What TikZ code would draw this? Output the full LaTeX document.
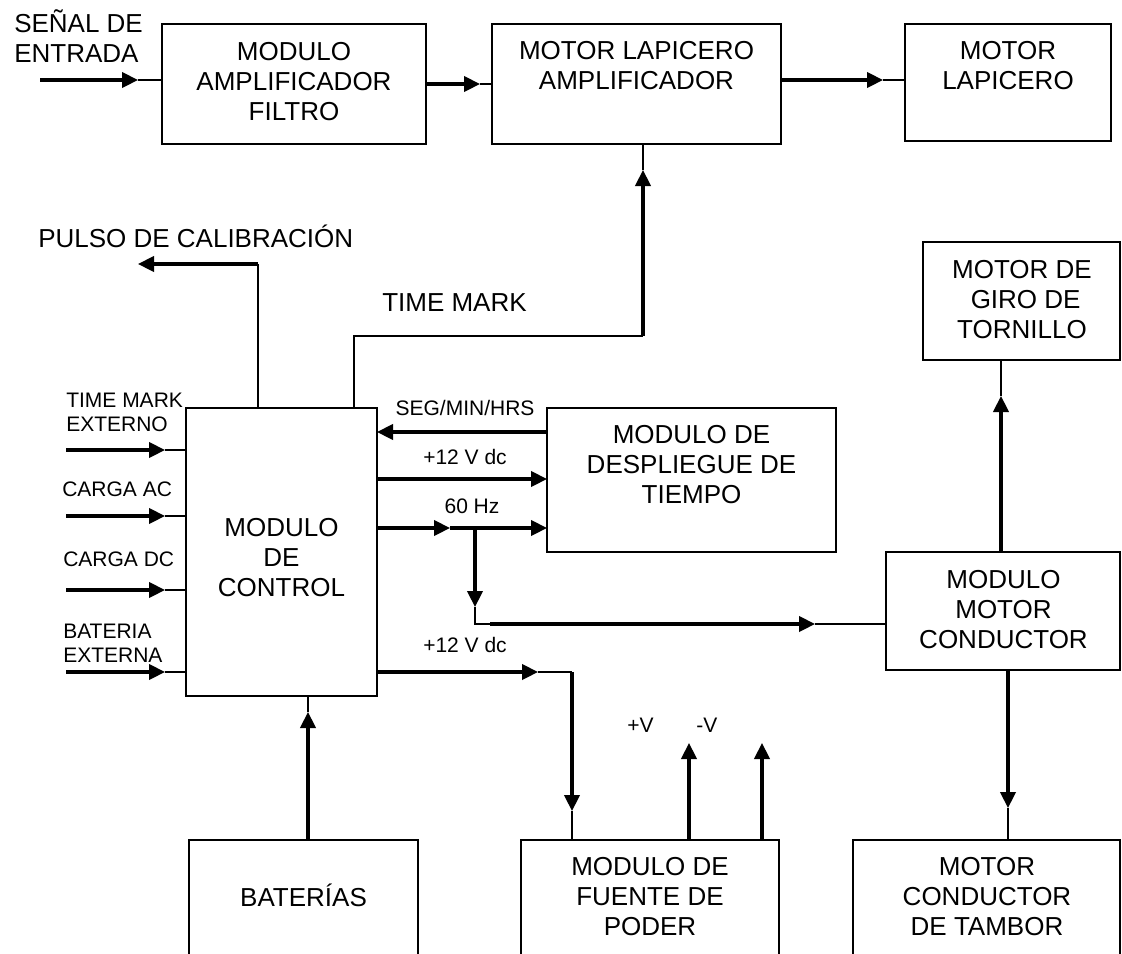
\documentclass[tikz,border=0pt]{standalone}
\usepackage{fontspec}
\setmainfont{Liberation Sans}
\usetikzlibrary{arrows.meta,fit}
\begin{document}
\begin{tikzpicture}[x=0.75pt,y=-0.75pt,
  box/.style={draw, line width=1.5pt, inner sep=0pt, outer sep=0pt},
  big/.style={font=\fontsize{19.5pt}{22.5pt}\selectfont, align=center, inner sep=0pt},
  small/.style={font=\fontsize{15.75pt}{18pt}\selectfont, align=left, inner sep=0pt},
  wire/.style={line width=2.3pt},
  lite/.style={line width=1.1pt},
  arr/.style={-{Triangle[length=12pt,width=11.5pt]}}]
\clip (0,0) rectangle (1122,954);
% boxes
\node[box, fit={(162,24)(426,144)}] (amp) {};
\node[box, fit={(492,24)(781,144)}] (mla) {};
\node[box, fit={(905,24)(1111,141)}] (mlp) {};
\node[box, fit={(186,408)(377,696)}] (ctrl) {};
\node[box, fit={(547,408)(836,552)}] (desp) {};
\node[box, fit={(923,242)(1120,360)}] (giro) {};
\node[box, fit={(886,552)(1120,670)}] (mmc) {};
\node[box, fit={(189,840)(418,1000)}] (bat) {};
\node[box, fit={(521,840)(779,1000)}] (fte) {};
\node[box, fit={(853,840)(1120,1000)}] (tam) {};
% box texts
\node[big, anchor=south] (ampT) at (294,121) {MODULO\\AMPLIFICADOR\\FILTRO};
\node[big, anchor=south] (mlaT) at (636.5,90) {MOTOR LAPICERO\\AMPLIFICADOR};
\node[big, anchor=south] (mlpT) at (1008,90) {MOTOR\\LAPICERO};
\node[big, anchor=south] (ctrlT) at (281.5,597) {MODULO\\DE\\CONTROL};
\node[big, anchor=south] (despT) at (691.5,504) {MODULO DE\\DESPLIEGUE DE\\TIEMPO};
\node[big, anchor=south] (giroT) at (1022,339) {MOTOR DE\\\hspace*{0.28em}GIRO DE\\TORNILLO};
\node[big, anchor=south] (mmcT) at (1003.5,649) {MODULO\\MOTOR\\CONDUCTOR};
\node[big, anchor=south] (batT) at (303.5,907) {BATERÍAS};
\node[big, anchor=south] (fteT) at (650,936) {MODULO DE\\FUENTE DE\\PODER};
\node[big, anchor=south] (tamT) at (987,936) {MOTOR\\CONDUCTOR\\DE TAMBOR};
% free labels
\node[big, anchor=south west, align=left] (senT) at (14,63) {SEÑAL DE\\ENTRADA};
\node[big, anchor=south west] (pulT) at (38,248) {PULSO DE CALIBRACIÓN};
\node[big, anchor=south west] (tmT) at (382,312) {TIME MARK};
\node[small, anchor=south west] (tmeT) at (66,432) {TIME MARK\\EXTERNO};
\node[small, anchor=south west] (cacT) at (62,497) {CARGA AC};
\node[small, anchor=south west] (cdcT) at (63,567) {CARGA DC};
\node[small, anchor=south west] (bexT) at (63,663) {BATERIA\\EXTERNA};
\node[small, anchor=south] (segT) at (465,416) {SEG/MIN/HRS};
\node[small, anchor=south] (v12aT) at (465,465) {+12 V dc};
\node[small, anchor=south] (hzT) at (472,514) {60 Hz};
\node[small, anchor=south] (v12bT) at (465,653) {+12 V dc};
\node[small, anchor=south west] (pvT) at (627,733) {+V};
\node[small, anchor=south west] (nvT) at (696,733) {-V};
% signal in
\coordinate (s0) at (40,80); \coordinate (s1) at (138,80);
\draw[wire,arr] (s0) -- (s1); \draw[lite] (s1) -- (s1 -| amp.west);
% amp -> mla
\coordinate (a1) at (480,84);
\draw[wire,arr] (amp.east |- a1) -- (a1); \draw[lite] (a1) -- (a1 -| mla.west);
% mla -> mlp
\coordinate (b1) at (883,80);
\draw[wire,arr] (mla.east |- b1) -- (b1); \draw[lite] (b1) -- (b1 -| mlp.west);
% time mark
\coordinate (tm1) at (354,336); \coordinate (tm2) at (643,336); \coordinate (tm3) at (643,170);
\draw[lite] (tm1 |- ctrl.north) -- (tm1) -- (tm2);
\draw[wire,arr] (tm2) -- (tm3);
\draw[lite] (tm3) -- (tm3 |- mla.south);
% pulso
\coordinate (p1) at (258,264); \coordinate (p2) at (138,264);
\draw[lite] (p1 |- ctrl.north) -- (p1);
\draw[wire,arr] (p1) -- (p2);
% control inputs
\foreach \yy [count=\i] in {450,516,590,672}{
  \coordinate (in\i) at (66,\yy); \coordinate (it\i) at (165,\yy);
  \draw[wire,arr] (in\i) -- (it\i); \draw[lite] (it\i) -- (it\i -| ctrl.west);
}
% seg/min/hrs
\coordinate (g1) at (460,432);
\draw[wire,arr] (g1 -| desp.west) -- (g1 -| ctrl.east);
% +12 upper
\coordinate (v1) at (460,479);
\draw[wire,arr] (v1 -| ctrl.east) -- (v1 -| desp.west);
% 60 Hz
\coordinate (h1) at (450,528); \coordinate (h2) at (475,528); \coordinate (h3) at (475,607);
\coordinate (h4) at (475,624); \coordinate (h5) at (490,624); \coordinate (h6) at (815,624);
\draw[wire,arr] (h1 -| ctrl.east) -- (h1);
\draw[wire,arr] (h1) -- (h1 -| desp.west);
\draw[wire,arr] (h2) -- (h3);
\draw[lite] (h3) -- (h4) -- (h5);
\draw[wire,arr] (h5) -- (h6);
\draw[lite] (h6) -- (h6 -| mmc.west);
% +12 lower
\coordinate (w1) at (538,672); \coordinate (w2) at (572,672); \coordinate (w3) at (572,811);
\draw[wire,arr] (w1 -| ctrl.east) -- (w1);
\draw[lite] (w1) -- (w2);
\draw[wire,arr] (w2) -- (w3);
\draw[lite] (w3) -- (w3 |- fte.north);
% +V -V
\coordinate (pv) at (689,743); \coordinate (nv) at (762,743);
\draw[wire,arr] (pv |- fte.north) -- (pv);
\draw[wire,arr] (nv |- fte.north) -- (nv);
% baterias
\coordinate (bt) at (308,712);
\draw[wire,arr] (bt |- bat.north) -- (bt); \draw[lite] (bt) -- (bt |- ctrl.south);
% mmc -> giro
\coordinate (r1) at (1001,396);
\draw[wire,arr] (r1 |- mmc.north) -- (r1); \draw[lite] (r1) -- (r1 |- giro.south);
% mmc -> tambor
\coordinate (d1) at (1008,808);
\draw[wire,arr] (d1 |- mmc.south) -- (d1); \draw[lite] (d1) -- (d1 |- tam.north);
\end{tikzpicture}
\end{document}
